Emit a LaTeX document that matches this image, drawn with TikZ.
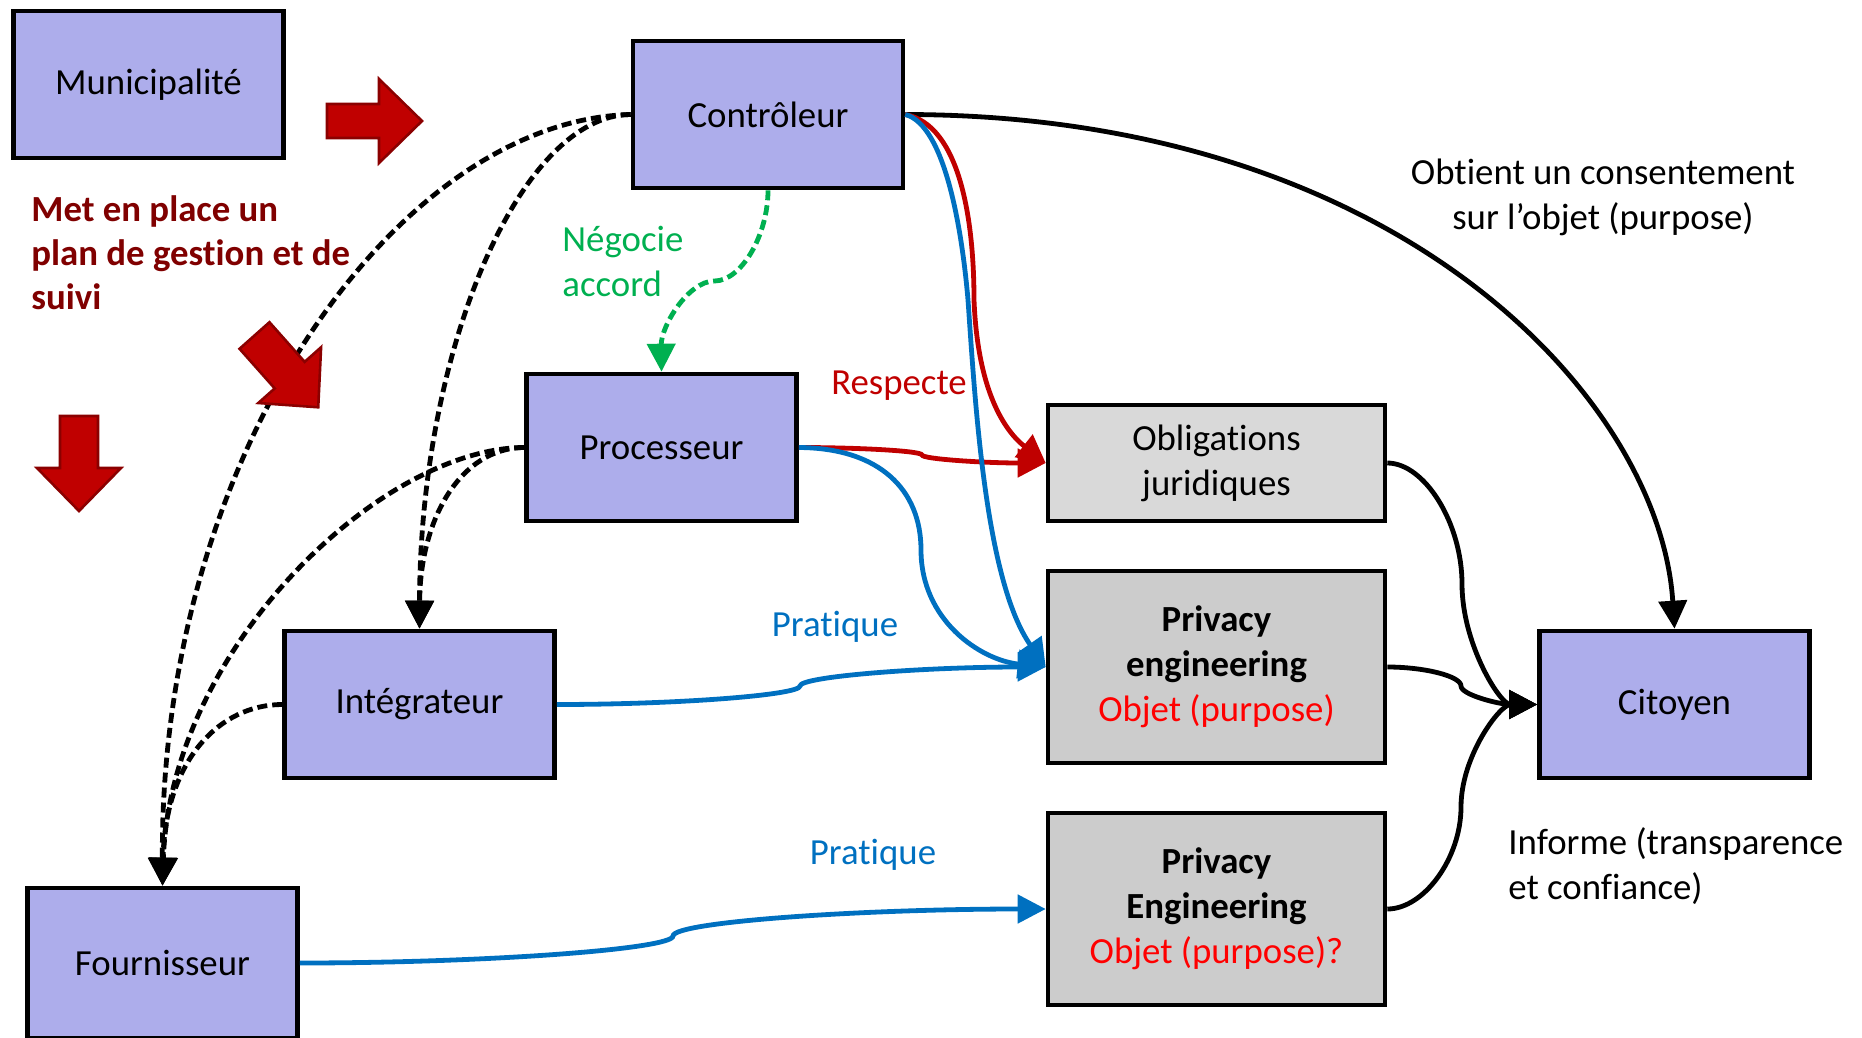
\documentclass[tikz,border=0pt]{standalone}
\usepackage{fontspec}
\setmainfont{Carlito}[Ligatures={NoCommon}]
\usetikzlibrary{arrows.meta}
\definecolor{boxblue}{RGB}{173,173,235}
\definecolor{oblgrey}{RGB}{217,217,217}
\definecolor{privgrey}{RGB}{204,204,204}
\definecolor{arrred}{RGB}{192,0,0}
\definecolor{arrborder}{RGB}{139,0,0}
\definecolor{txtdarkred}{RGB}{128,0,0}
\definecolor{resred}{RGB}{192,0,0}
\definecolor{objred}{RGB}{255,0,0}
\definecolor{negogreen}{RGB}{0,176,80}
\definecolor{pratblue}{RGB}{0,112,192}
\begin{document}
\begin{tikzpicture}[x=0.5pt,y=-0.5pt,
  every node/.style={font=\fontsize{18.4}{22.5}\selectfont, inner sep=0pt},
  bluebox/.style={draw=black, line width=2.3pt, fill=boxblue, minimum width=135pt, minimum height=73.5pt},
  oblbox/.style={draw=black, line width=2.3pt, fill=oblgrey, minimum width=168.5pt, minimum height=58pt, align=center},
  privbox/.style={draw=black, line width=2.3pt, fill=privgrey, minimum width=168.5pt, minimum height=96pt, align=center},
  tipped/.style={-{Triangle[length=14pt,width=14pt]}},
  blk/.style={draw=black, line width=2.4pt, tipped},
  dsh/.style={draw=black, line width=2.4pt, dash pattern=on 5pt off 2.5pt, tipped},
  redl/.style={draw=resred, line width=2.4pt, tipped},
  bluel/.style={draw=pratblue, line width=2.4pt, tipped},
  greenl/.style={draw=negogreen, line width=2.4pt, dash pattern=on 5pt off 2.5pt, tipped},
  blockarr/.style={fill=arrred, draw=arrborder, line width=1.3pt}
]
\useasboundingbox (0,0) rectangle (1862,1038);

% boxes
\node[bluebox] (muni) at (148.5,84.5) {Municipalité};
\node[bluebox] (ctrl) at (768,114.5) {Contrôleur};
\node[bluebox] (proc) at (661.5,447.5) {Processeur};
\node[bluebox] (int) at (419.5,704.5) {Intégrateur};
\node[bluebox, minimum height=75pt] (four) at (162.5,963) {Fournisseur};
\node[bluebox] (cit) at (1674.5,704.5) {Citoyen};
\node[oblbox] (obl) at (1216.5,463) {Obligations\\juridiques};
\node[privbox] (priv) at (1216.5,667) {\textbf{Privacy}\\\textbf{engineering}\\\textcolor{objred}{Objet (purpose)}};
\node[privbox] (priv2) at (1216.5,909) {\textbf{Privacy}\\\textbf{Engineering}\\\textcolor{objred}{Objet (purpose)?}};

% labels
\node[anchor=west, align=left, text=txtdarkred, font=\fontsize{18.4}{22}\selectfont\bfseries] (plan) at (31,253) {Met en place un\\plan de gestion et de\\suivi};
\node[anchor=west, align=left, text=negogreen] (nego) at (562,261.5) {Négocie\\accord};
\node[text=resred] (resp) at (899,386) {Respecte};
\node[align=center] (obt) at (1603,197) {Obtient un consentement\\sur l’objet (purpose)};
\node[text=pratblue] (prat1) at (835,627) {Pratique};
\node[text=pratblue] (prat2) at (873,855) {Pratique};
\node[anchor=west, align=left] (inf) at (1508,866) {Informe (transparence\\et confiance)};

% dashed black connectors
\draw[dsh] (ctrl.west) .. controls (400,120) and (160,450) .. (four.north);
\draw[dsh] (ctrl.west) .. controls (520,115) and (420,350) .. (int.north);
\draw[dsh] (proc.west) .. controls (460,448) and (420,520) .. (int.north);
\draw[dsh] (proc.west) .. controls (380,448) and (170,650) .. (four.north);
\draw[dsh] (int.west) .. controls (220,704.5) and (165,760) .. (four.north);

% green
\draw[greenl] (ctrl.south) .. controls (768,235.5) and (741,281) .. (714.5,281) .. controls (688,281) and (661,326.5) .. (proc.north);

% controleur -> citoyen
\draw[blk] (ctrl.east) .. controls (1400,115) and (1660,400) .. (cit.north);

% red
\draw[redl] (ctrl.east) .. controls (960,125) and (974,220) .. (974,300) .. controls (978,400) and (1010,435) .. (obl.west);
\draw[redl] (proc.east) .. controls (860,447.5) and (922,451) .. (922,455) .. controls (922,459) and (984,463) .. (obl.west);

% blue
\draw[bluel] (ctrl.east) .. controls (945,125) and (962,230) .. (968,300) .. controls (975,400) and (985,580) .. (priv.west);
\draw[bluel] (proc.east) .. controls (880,448) and (921,490) .. (921,550) .. controls (921,620) and (980,660) .. (priv.west);
\draw[bluel] (int.east) .. controls (678,704.5) and (800,695) .. (800,686) .. controls (800,676.5) and (923,667) .. (priv.west);
\draw[bluel] (four.east) .. controls (486,963) and (673,949) .. (673,936) .. controls (673,922) and (860,909) .. (priv2.west);

% black to citoyen
\draw[blk] (obl.east) .. controls (1424.5,463) and (1462,523) .. (1462,584) .. controls (1462,644) and (1500,704.5) .. (cit.west);
\draw[blk] (priv.east) .. controls (1424,667) and (1461,676) .. (1461,686) .. controls (1461,695) and (1500,704.5) .. (cit.west);
\draw[blk] (priv2.east) .. controls (1424,909) and (1461,858) .. (1461,807) .. controls (1461,756) and (1500,704.5) .. (cit.west);

% red block arrows
\begin{scope}[shift={(327,121)}]
  \draw[blockarr] (0,-17)--(52,-17)--(52,-42)--(95,0)--(52,42)--(52,17)--(0,17)--cycle;
\end{scope}
\begin{scope}[shift={(79,416)}, rotate=-90]
  \draw[blockarr] (0,-19)--(52,-19)--(52,-42)--(95,0)--(52,42)--(52,19)--(0,19)--cycle;
\end{scope}
\begin{scope}[shift={(254.5,335.5)}, rotate=-48.4]
  \draw[blockarr] (0,-20)--(53,-20)--(53,-42)--(96,0)--(53,42)--(53,20)--(0,20)--cycle;
\end{scope}
\end{tikzpicture}
\end{document}
